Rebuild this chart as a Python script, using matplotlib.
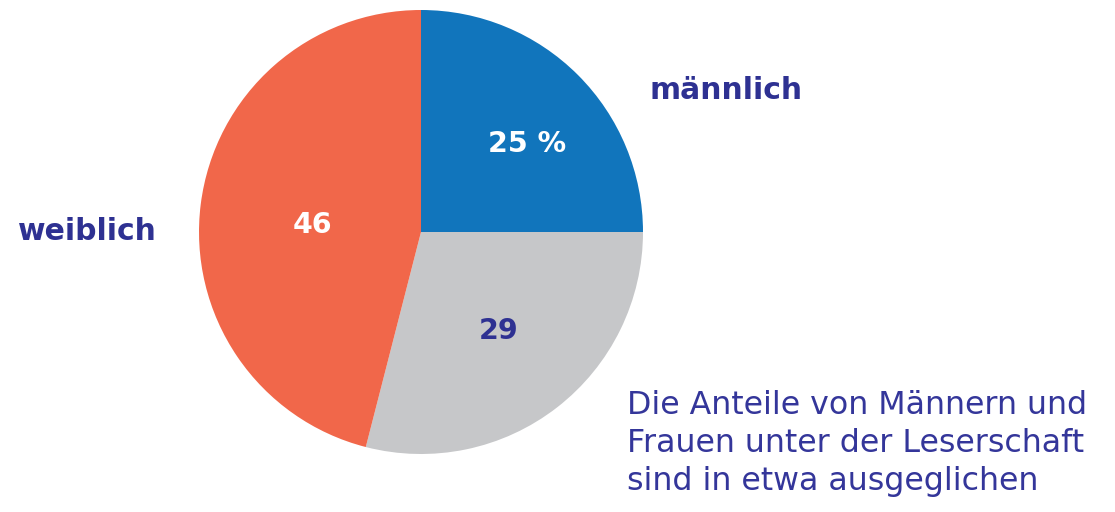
import matplotlib.pyplot as plt

# Anteile, im Uhrzeigersinn ab 12 Uhr
shares = [25, 29, 46]
share_labels = ['25 %', '29', '46']
groups = ['männlich', '', 'weiblich']
colors = ['#1175BC', '#C6C7C9', '#F1674A']
label_colors = ['white', '#2E3192', 'white']
note = 'Die Anteile von Männern und\nFrauen unter der Leserschaft\nsind in etwa ausgeglichen'

W, H = 1115, 512
fig = plt.figure(figsize=(W / 100, H / 100), dpi=100)
ax = fig.add_axes([0, 0, 1, 1])

cx, cy, r = 421, H - 232, 222
ax.pie(shares, colors=colors, startangle=90, counterclock=False,
       center=(cx, cy), radius=r, frame=True,
       wedgeprops=dict(linewidth=0))
ax.set_xlim(0, W)
ax.set_ylim(0, H)
ax.set_aspect('equal')
ax.axis('off')

# Werte in den Segmenten (Pixelpositionen aus der Vorlage)
val_pos = [(527, 144), (499, 331), (312, 225)]
for (x, y), txt, c in zip(val_pos, share_labels, label_colors):
    ax.text(x, H - y, txt, color=c, fontsize=20.5, fontweight='bold',
            ha='center', va='center')

ax.text(649, H - 99, groups[0], color='#2E3192', fontsize=21.5,
        fontweight='bold', ha='left', va='baseline')
ax.text(18, H - 240, groups[2], color='#2E3192', fontsize=21.5,
        fontweight='bold', ha='left', va='baseline')

ax.text(627, H - 490, note, color='#34369A', fontsize=22.8,
        ha='left', va='baseline', linespacing=1.3)

fig.savefig('out.png', dpi=100)
